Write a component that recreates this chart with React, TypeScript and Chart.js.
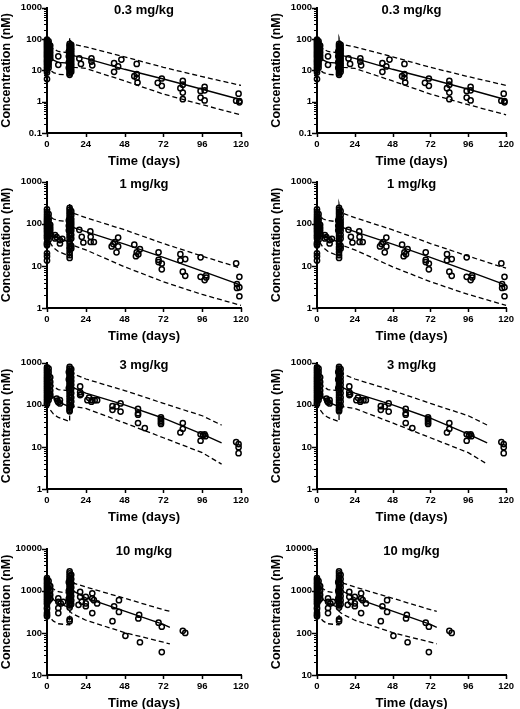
import React, { useEffect, useRef } from "react";
import { Chart, registerables } from "chart.js";

Chart.register(...registerables);

// ---------- data ----------
const DOSE_LABELS = ["0.3 mg/kg", "1 mg/kg", "3 mg/kg", "10 mg/kg"];
const X_TICKS = [0, 24, 48, 72, 96, 120];
const Y_MIN = [0.1, 1, 1, 10];
const Y_MAX = [1000, 1000, 1000, 10000];
const X_TITLE = "Time (days)";
const Y_TITLE = "Concentration (nM)";

// 0.3 mg/kg
const obs03: number[][] = [
  [0, 95], [0, 88], [0, 80], [0, 72], [0, 65], [0, 58], [0, 52], [0, 46], [0, 41], [0, 37], [0, 33], [0, 30],
  [0, 27], [0, 24], [0, 21], [0, 19], [0, 17], [0, 15], [0, 13], [0, 11.5], [0, 9.8], [0, 8.5], [0, 5.3],
  [1, 85], [1, 70], [1, 60], [1, 50], [1, 43], [1, 36], [1, 31], [1, 26], [1, 22], [1, 18], [1, 15], [1, 12],
  [2, 62], [2, 48], [2, 38], [2, 30], [2, 24],
  [14, 70], [14, 62], [14, 55], [14, 48], [14, 43], [14, 38], [14, 34], [14, 30], [14, 27], [14, 24], [14, 21],
  [14, 19], [14, 17], [14, 15], [14, 13.5], [14, 12], [14, 10.5], [14, 9.2], [14, 8], [14, 7.2],
  [15, 65], [15, 52], [15, 44], [15, 36], [15, 30], [15, 25], [15, 21], [15, 17], [15, 14], [15, 11], [15, 9],
  [13.5, 40], [13.5, 28], [13.5, 18], [13.5, 12],
  [7, 28], [7, 15], [20, 24], [21, 16], [27.5, 24], [27.5, 19], [28, 14.5], [41.5, 17], [41.5, 9], [44, 13.3],
  [46, 22], [55.5, 16], [55.5, 7.6], [55.5, 5.8], [54, 6.5], [56, 4.1], [68.5, 4], [71, 5.5], [71, 3.2],
  [82.5, 2.7], [84, 4.6], [84, 3.5], [84, 1.95], [84, 1.2], [95, 2.2], [95, 1.35], [97.5, 3], [97.5, 2.3],
  [97.5, 1.1], [117, 1.07], [118.5, 1.8], [119, 0.95], [119, 1.05],
];
const median03: number[][] = [[0, 40], [1, 30], [4, 21], [7, 18], [14, 17], [14, 40], [15, 33], [17, 29], [24, 24], [48, 10.8], [72, 5.3], [96, 2.5], [120, 1.15]];
const upper03: number[][] = [[0, 110], [1, 70], [4, 48], [7, 40], [14, 36], [14, 110], [15, 76], [17, 66], [24, 56], [48, 27], [72, 12.5], [96, 6.3], [120, 3.3]];
const lower03: number[][] = [[0, 15], [1, 11], [4, 8.5], [7, 7.5], [14, 7], [14, 14], [15, 13], [17, 12.5], [24, 11.5], [48, 4.6], [72, 1.75], [96, 0.8], [120, 0.38]];

// 1 mg/kg
const obs1: number[][] = [
  [0, 220], [0, 190], [0, 165], [0, 145], [0, 130], [0, 118], [0, 108], [0, 98], [0, 90], [0, 82], [0, 75],
  [0, 68], [0, 62], [0, 55], [0, 50], [0, 45], [0, 36], [0, 33], [0, 31], [0, 20], [0, 17], [0, 13.5],
  [1, 170], [1, 140], [1, 120], [1, 100], [1, 88], [1, 76], [1, 66], [1, 57], [1, 50], [1, 42],
  [2, 95], [2, 80], [2, 68], [2, 58],
  [14, 240], [14, 215], [14, 190], [14, 170], [14, 150], [14, 135], [14, 122], [14, 110], [14, 100], [14, 92],
  [14, 84], [14, 76], [14, 68], [14, 60], [14, 52], [14, 45], [14, 38], [14, 33], [14, 28], [14, 25], [14, 21],
  [14, 18], [14, 15.5],
  [15, 200], [15, 160], [15, 130], [15, 110], [15, 95], [15, 80], [15, 68], [15, 55], [15, 45], [15, 30], [15, 26],
  [13.5, 120], [13.5, 90], [13.5, 70],
  [5, 54], [5, 45], [6, 48], [8, 41], [8, 34], [9.5, 44],
  [20, 72], [21.5, 49], [22.5, 36], [26.8, 66], [27, 49], [27, 37], [29, 37],
  [40, 29], [42, 37], [44, 47], [44, 29], [43, 21], [41, 33],
  [54, 32], [55.5, 21], [56.5, 19], [57.5, 25], [55, 17],
  [69, 21], [69, 14], [69, 12.3], [71, 11.4], [71, 8.3],
  [82.5, 19], [82.5, 13.6], [84, 7.3], [85.5, 14.5], [85.5, 5.8],
  [95, 16], [95, 5.5], [97.5, 4.6], [98.5, 6], [98.5, 5.3],
  [117, 11.5], [117.5, 3.7], [117.5, 3], [119, 5.5], [119, 3.1], [119, 1.9],
];
const median1: number[][] = [[0, 110], [1, 80], [4, 55], [7, 45], [14, 37], [14, 105], [15, 95], [17, 80], [24, 65], [48, 33], [72, 16], [96, 7.5], [120, 3.5]];
const upper1: number[][] = [[0, 200], [1, 160], [4, 130], [7, 120], [14, 110], [14, 300], [15, 210], [17, 175], [24, 140], [48, 72], [72, 34], [96, 17], [120, 8.8]];
const lower1: number[][] = [[0, 55], [1, 40], [4, 27], [7, 22], [14, 17], [14, 40], [15, 36], [17, 30], [24, 24], [48, 9.5], [72, 4.2], [96, 2.1], [120, 1.15]];

// 3 mg/kg
const obs3: number[][] = [
  [0, 780], [0, 700], [0, 630], [0, 570], [0, 510], [0, 460], [0, 420], [0, 380], [0, 345], [0, 310], [0, 280],
  [0, 255], [0, 230], [0, 210], [0, 190], [0, 170], [0, 155], [0, 140], [0, 125], [0, 112], [0, 104],
  [1, 720], [1, 600], [1, 500], [1, 420], [1, 350], [1, 300], [1, 250], [1, 210], [1, 180], [1, 150], [1, 130],
  [2, 450], [2, 350], [2, 280], [2, 220], [2, 180], [2, 160],
  [14, 800], [14, 720], [14, 650], [14, 590], [14, 530], [14, 480], [14, 430], [14, 390], [14, 350], [14, 310],
  [14, 280], [14, 250], [14, 220], [14, 195], [14, 170], [14, 150], [14, 130], [14, 115], [14, 100], [14, 90],
  [14, 82], [14, 75], [14, 70],
  [15, 700], [15, 560], [15, 450], [15, 370], [15, 300], [15, 240], [15, 190], [15, 150], [15, 120], [15, 95],
  [13.5, 600], [13.5, 400], [13.5, 250],
  [6, 140], [6.5, 125], [7, 115], [8, 108], [8, 130],
  [20.5, 273], [20.5, 200], [20.5, 170], [21, 178],
  [25, 129], [26, 148], [27.5, 118], [28, 129], [29.5, 129], [31, 129],
  [40.5, 93], [40.5, 76], [43, 91], [45.5, 108], [45.5, 69],
  [56.3, 80], [56.3, 63], [56.3, 58], [56.3, 37], [60.5, 28],
  [70.5, 50], [70.5, 46], [70.5, 42], [70.5, 38], [70.5, 35],
  [82.5, 22], [84, 37], [84, 27],
  [95, 20], [95, 14], [96.5, 19], [97.5, 20], [98, 18],
  [117, 13], [118.5, 11.7], [118.5, 9.8], [118.5, 7.1],
];
const median3: number[][] = [[0, 300], [1, 220], [4, 150], [7, 115], [14, 90], [14, 330], [15, 290], [17, 250], [24, 190], [48, 100], [72, 48], [96, 20], [108, 12.5]];
const upper3: number[][] = [[0, 500], [1, 380], [4, 270], [7, 230], [14, 215], [14, 750], [15, 600], [17, 530], [24, 410], [48, 218], [72, 108], [96, 55], [108, 33]];
const lower3: number[][] = [[0, 110], [1, 85], [4, 60], [7, 50], [14, 40], [14, 100], [15, 95], [17, 90], [24, 82], [48, 37], [72, 16.5], [96, 7.3], [108, 3.9]];

// 10 mg/kg
const obs10: number[][] = [
  [0, 2000], [0, 1800], [0, 1600], [0, 1450], [0, 1300], [0, 1180], [0, 1060], [0, 960], [0, 870], [0, 790],
  [0, 720], [0, 650], [0, 590], [0, 530], [0, 480], [0, 400], [0, 370], [0, 300], [0, 270], [0, 250],
  [1, 1700], [1, 1400], [1, 1150], [1, 950], [1, 800], [1, 680], [1, 580],
  [2, 1300], [2, 1000], [2, 800], [2, 650],
  [14, 2900], [14, 2600], [14, 2300], [14, 2050], [14, 1850], [14, 1650], [14, 1500], [14, 1350], [14, 1200],
  [14, 1080], [14, 970], [14, 870], [14, 780], [14, 700], [14, 630], [14, 560], [14, 500], [14, 450], [14, 400],
  [14, 210], [14, 190],
  [15, 2400], [15, 1900], [15, 1500], [15, 1200], [15, 950], [15, 750], [15, 600], [15, 480],
  [13.5, 1600], [13.5, 1000], [13.5, 650],
  [7, 660], [7, 550], [8.5, 500], [10, 550], [7, 295], [7, 390],
  [20.5, 940], [20.5, 720], [21.5, 550], [24, 720], [24, 500], [19.5, 465], [24, 430],
  [28, 870], [28, 660], [29, 600], [28, 295], [31, 500],
  [40.5, 190], [41.5, 430], [44.5, 600], [44.5, 315],
  [48.5, 85],
  [56.5, 220], [57, 270], [57.5, 60],
  [69, 175], [71, 140], [71, 35],
  [84, 112], [85.5, 100],
];
const median10: number[][] = [[0, 1100], [1, 850], [4, 620], [7, 500], [14, 400], [14, 1400], [15, 1150], [17, 950], [24, 680], [48, 330], [72, 160], [76, 135]];
const upper10: number[][] = [[0, 1800], [1, 1500], [4, 1100], [7, 950], [14, 870], [14, 2500], [15, 1900], [17, 1500], [24, 1230], [48, 665], [72, 355], [76, 325]];
const lower10: number[][] = [[0, 300], [1, 250], [4, 190], [7, 165], [14, 155], [14, 330], [15, 300], [17, 270], [24, 200], [48, 102], [72, 60], [76, 55]];

const OBS = [obs03, obs1, obs3, obs10];
const MEDIANS = [median03, median1, median3, median10];
const UPPERS = [upper03, upper1, upper3, upper10];
const LOWERS = [lower03, lower1, lower3, lower10];

// ---------- layout ----------
const FONT = "'Liberation Sans', Arial, Helvetica, sans-serif";
const ROW_TOPS = [5, 179, 360, 546];
const ROW_BOTTOMS = [133, 308, 489, 675];
const PAD_TOP = 8;
const X_AXIS_H = 36;
const Y_AXIS_W = 47;

const toXY = (arr: number[][]) => arr.map(([x, y]) => ({ x, y }));
const isPow10 = (v: number) => Math.abs(Math.log10(v) - Math.round(Math.log10(v))) < 1e-9;

function logTicks(min: number, max: number) {
  const out: number[] = [];
  const e0 = Math.round(Math.log10(min));
  const e1 = Math.round(Math.log10(max));
  for (let e = e0; e <= e1; e++) {
    for (let m = 1; m <= 9; m++) {
      const v = Number((m * Math.pow(10, e)).toPrecision(6));
      if (v >= min - 1e-12 && v <= max + 1e-9) out.push(v);
      if (e === e1) break;
    }
  }
  return out;
}

const decoPlugin = {
  id: "deco",
  afterDraw(chart: any) {
    const ctx = chart.ctx;
    const { left, right, top, bottom } = chart.chartArea;
    const ys = chart.scales.y;
    const xs = chart.scales.x;
    ctx.save();
    ctx.strokeStyle = "#000";
    for (const t of ys.ticks) {
      const py = Math.round(ys.getPixelForValue(t.value)) + 0.5;
      const major = isPow10(t.value);
      ctx.lineWidth = major ? 1.5 : 1;
      ctx.beginPath();
      ctx.moveTo(left - (major ? 5 : 3), py);
      ctx.lineTo(left, py);
      ctx.stroke();
    }
    for (const t of xs.ticks) {
      const px = Math.round(xs.getPixelForValue(t.value)) + 0.5;
      ctx.lineWidth = 1.5;
      ctx.beginPath();
      ctx.moveTo(px, bottom);
      ctx.lineTo(px, bottom + 4);
      ctx.stroke();
    }
    const label = chart.options.plugins.deco.label;
    ctx.fillStyle = "#000";
    ctx.font = `bold 13px ${FONT}`;
    ctx.textAlign = "center";
    ctx.textBaseline = "middle";
    ctx.fillText(label, (left + right) / 2, top + 3);
    ctx.restore();
  },
};

function Panel({ row, col }: { row: number; col: number }) {
  const ref = useRef<HTMLCanvasElement>(null);
  const width = 260;
  const height = ROW_BOTTOMS[row] - ROW_TOPS[row] + PAD_TOP + X_AXIS_H;
  const top = ROW_TOPS[row] - PAD_TOP;
  const leftPos = col * 260;

  useEffect(() => {
    const canvas = ref.current;
    if (!canvas) return;
    const yMin = Y_MIN[row];
    const yMax = Y_MAX[row];
    const yTicks = logTicks(yMin, yMax);
    const lineCommon = { showLine: true, pointRadius: 0, borderColor: "#000", fill: false, clip: false as any, tension: 0 };
    const chart = new Chart(canvas, {
      type: "scatter",
      data: {
        datasets: [
          { ...lineCommon, data: toXY(UPPERS[row]), borderWidth: 1.3, borderDash: [5, 3] } as any,
          { ...lineCommon, data: toXY(LOWERS[row]), borderWidth: 1.3, borderDash: [5, 3] } as any,
          { ...lineCommon, data: toXY(MEDIANS[row]), borderWidth: 1.4 } as any,
          {
            data: toXY(OBS[row]),
            showLine: false,
            pointRadius: 2.6,
            pointBorderWidth: 1.5,
            pointBorderColor: "#000",
            pointBackgroundColor: "rgba(0,0,0,0)",
            borderColor: "#000",
            backgroundColor: "rgba(0,0,0,0)",
            clip: false,
          } as any,
        ],
      },
      options: {
        animation: false,
        responsive: false,
        events: [],
        layout: { padding: { top: PAD_TOP, bottom: 0, left: col === 0 ? 0 : 10, right: col === 0 ? 19 : 9 } },
        plugins: {
          legend: { display: false },
          tooltip: { enabled: false },
          title: { display: false },
          deco: { label: DOSE_LABELS[row] },
        } as any,
        scales: {
          x: {
            type: "linear",
            min: 0,
            max: 120,
            afterBuildTicks: (s: any) => {
              s.ticks = X_TICKS.map((v) => ({ value: v }));
            },
            afterFit: (s: any) => {
              s.height = X_AXIS_H;
            },
            ticks: {
              autoSkip: false,
              maxRotation: 0,
              padding: 6,
              color: "#000",
              font: { family: FONT, size: 9.5, weight: "bold" },
              callback: (v: any) => String(v),
            },
            grid: { display: true, drawOnChartArea: false, drawTicks: false },
            border: { display: true, width: 2, color: "#000" },
            title: {
              display: true,
              text: X_TITLE,
              color: "#000",
              padding: 0,
              font: { family: FONT, size: 13, weight: "bold", lineHeight: 1.2 },
            },
          },
          y: {
            type: "logarithmic",
            min: yMin,
            max: yMax,
            afterBuildTicks: (s: any) => {
              s.ticks = yTicks.map((v) => ({ value: v, major: isPow10(v) }));
            },
            afterFit: (s: any) => {
              s.width = Y_AXIS_W;
            },
            ticks: {
              autoSkip: false,
              padding: 5,
              color: "#000",
              font: { family: FONT, size: 9.5, weight: "bold" },
              callback: (v: any) => (isPow10(Number(v)) ? String(Number(Number(v).toPrecision(6))) : ""),
            },
            grid: { display: true, drawOnChartArea: false, drawTicks: false },
            border: { display: true, width: 2, color: "#000" },
            title: {
              display: true,
              text: Y_TITLE,
              color: "#000",
              padding: 0,
              font: { family: FONT, size: 12.5, weight: "bold", lineHeight: 1 },
            },
          },
        },
      } as any,
      plugins: [decoPlugin],
    });
    return () => chart.destroy();
  }, [row, col]);

  return (
    <div style={{ position: "absolute", left: leftPos, top, width, height }}>
      <canvas ref={ref} width={width} height={height} style={{ display: "block", width, height }} />
    </div>
  );
}

export default function App() {
  const panels = [];
  for (let r = 0; r < 4; r++) {
    for (let c = 0; c < 2; c++) {
      panels.push(<Panel key={`${r}-${c}`} row={r} col={c} />);
    }
  }
  return (
    <div style={{ position: "absolute", left: 0, top: 0, width: 520, height: 709, background: "#fff", overflow: "hidden" }}>
      {panels}
    </div>
  );
}
